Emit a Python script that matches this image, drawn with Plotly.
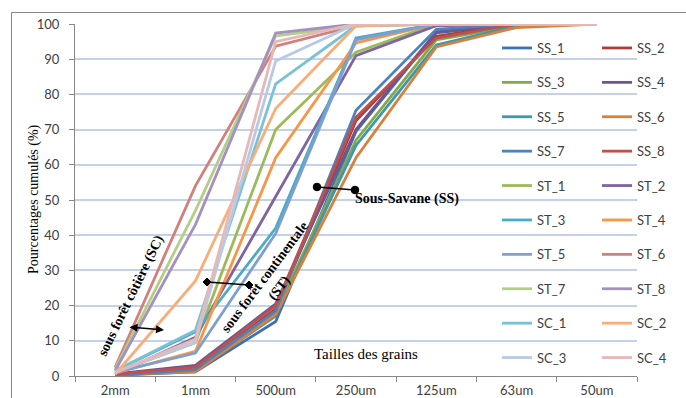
import plotly.graph_objects as go

# ---------------- data ----------------
categories = ["2mm", "1mm", "500um", "250um", "125um", "63um", "50um"]

SS_1 = [0.2, 1.2, 15.5, 69.5, 97.5, 100, 100]
SS_2 = [0.3, 2.0, 19.0, 72.5, 96.5, 100, 100]
SS_3 = [0.5, 2.2, 18.0, 67.0, 95.5, 99.5, 100]
SS_4 = [0.6, 3.0, 20.5, 70.0, 97.8, 100, 100]
SS_5 = [0.3, 1.5, 17.0, 65.5, 94.0, 99.5, 100]
SS_6 = [0.4, 1.2, 17.5, 62.0, 93.5, 99.0, 100]
SS_7 = [0.2, 1.8, 18.5, 75.5, 98.5, 100, 100]
SS_8 = [0.5, 2.5, 20.0, 73.5, 96.0, 100, 100]
ST_1 = [1.0, 9.5, 70.0, 92.0, 100, 100, 100]
ST_2 = [0.5, 11.0, 51.0, 91.0, 99.5, 100, 100]
ST_3 = [1.5, 12.5, 42.0, 96.0, 100, 100, 100]
ST_4 = [0.8, 7.0, 62.0, 94.6, 100, 100, 100]
ST_5 = [1.0, 6.5, 40.5, 95.5, 100, 100, 100]
ST_6 = [2.5, 54.0, 93.7, 99.5, 100, 100, 100]
ST_7 = [2.0, 47.0, 96.6, 99.5, 100, 100, 100]
ST_8 = [1.5, 43.0, 97.4, 100, 100, 100, 100]
SC_1 = [1.5, 13.0, 83.0, 99.5, 100, 100, 100]
SC_2 = [0.5, 27.0, 76.0, 99.5, 100, 100, 100]
SC_3 = [1.0, 9.5, 89.5, 100, 100, 100, 100]
SC_4 = [1.0, 10.5, 95.0, 100, 100, 100, 100]

series_names = ["SS_1", "SS_2", "SS_3", "SS_4", "SS_5", "SS_6", "SS_7", "SS_8",
                "ST_1", "ST_2", "ST_3", "ST_4", "ST_5", "ST_6", "ST_7", "ST_8",
                "SC_1", "SC_2", "SC_3", "SC_4"]
series_values = [SS_1, SS_2, SS_3, SS_4, SS_5, SS_6, SS_7, SS_8,
                 ST_1, ST_2, ST_3, ST_4, ST_5, ST_6, ST_7, ST_8,
                 SC_1, SC_2, SC_3, SC_4]
series_colors = ["#4071ac", "#aa3e3b", "#86a84b", "#6c5590", "#3d98ae", "#d9803c",
                 "#4f81bd", "#c0504d", "#9bbb59", "#8064a2", "#4bacc6", "#f79646",
                 "#7d9fd3", "#d27f7d", "#b3ce85", "#a491c0", "#79c2d6", "#f9ad79",
                 "#b7c9e5", "#e5b9b8"]

# ---------------- layout helpers (pixel -> paper) ----------------
W, H = 686, 398
L, R, T, B = 75, 637, 24, 376


def px(x):
    return (x - L) / (R - L)


def py(y):
    return (B - y) / (B - T)


fig = go.Figure()
for i, (name, vals, col) in enumerate(zip(series_names, series_values, series_colors)):
    fig.add_trace(go.Scatter(
        x=categories, y=vals, name=name, mode="lines",
        line=dict(color=col, width=2.8),
        legend="legend" if i % 2 == 0 else "legend2",
        legendgroup=name,
    ))

tick_font = dict(family="Lato", size=13, color="#404040")
serif = "Liberation Serif"

annotations = [
    dict(text="Pourcentages cumulés (%)", x=px(34), y=py(199), textangle=-90,
         xanchor="center", yanchor="middle",
         showarrow=False, font=dict(family=serif, size=14, color="#000")),
    dict(text="<b>sous forêt côtière (SC)</b>", x=px(131), y=py(296), textangle=-64,
         xanchor="center", yanchor="middle",
         showarrow=False, font=dict(family=serif, size=14, color="#000")),
    dict(text="<b>sous forêt continentale<br>(ST)</b>", x=px(272), y=py(283), textangle=-53,
         xanchor="center", yanchor="middle",
         showarrow=False, font=dict(family=serif, size=14, color="#000")),
    dict(text="<b>Sous-Savane (SS)</b>", x=px(353), y=py(199), xanchor="left", yanchor="middle",
         showarrow=False, font=dict(family=serif, size=14, color="#000")),
    dict(text="Tailles des grains", x=px(312), y=py(354), xanchor="left", yanchor="middle",
         showarrow=False, font=dict(family=serif, size=15, color="#000")),
    dict(text="", x=px(164), y=py(330), ax=-36, ay=-3, showarrow=True,
         arrowside="end+start", arrowhead=2, startarrowhead=2,
         arrowwidth=1.6, arrowcolor="#000"),
]
for a in annotations:
    a.setdefault("xref", "paper")
    a.setdefault("yref", "paper")

shapes = [
    # white box behind the legend (hides gridlines)
    dict(type="rect", xref="paper", yref="paper", x0=px(486), x1=px(637),
         y0=py(370), y1=py(30), fillcolor="white", line=dict(width=0), layer="between"),
    # chart-area border
    dict(type="rect", xref="paper", yref="paper", x0=px(11.5), x1=px(700),
         y0=py(430), y1=py(12.5), line=dict(color="#878787", width=1),
         fillcolor="rgba(0,0,0,0)", layer="above"),
    # dumbbell 1
    dict(type="line", xref="paper", yref="paper", x0=px(207), y0=py(282),
         x1=px(249), y1=py(285), line=dict(color="#000", width=1.6)),
    # dumbbell 2
    dict(type="line", xref="paper", yref="paper", x0=px(317), y0=py(187),
         x1=px(355), y1=py(190), line=dict(color="#000", width=1.6)),
]


def diamond(cx, cy, r):
    return (f"M{px(cx - r)},{py(cy)} L{px(cx)},{py(cy - r)} "
            f"L{px(cx + r)},{py(cy)} L{px(cx)},{py(cy + r)} Z")


for (cx, cy) in [(207, 282), (249, 285)]:
    shapes.append(dict(type="path", xref="paper", yref="paper", path=diamond(cx, cy, 4),
                       fillcolor="#000", line=dict(color="#000", width=1)))
for (cx, cy) in [(317, 187), (355, 190)]:
    r = 3.8
    shapes.append(dict(type="circle", xref="paper", yref="paper",
                       x0=px(cx - r), x1=px(cx + r), y0=py(cy + r), y1=py(cy - r),
                       fillcolor="#000", line=dict(color="#000", width=1)))

legend_common = dict(xanchor="left", yanchor="top", bgcolor="rgba(0,0,0,0)",
                     font=dict(family="Lato", size=13, color="#404040"),
                     tracegroupgap=14.5, itemwidth=30, orientation="v", maxheight=500)

fig.update_layout(
    width=W, height=H, autosize=False,
    margin=dict(l=L, r=W - R, t=T, b=H - B, pad=0),
    paper_bgcolor="white", plot_bgcolor="white",
    showlegend=True,
    legend=dict(x=px(497), y=py(33), **legend_common),
    legend2=dict(x=px(597), y=py(33), **legend_common),
    annotations=annotations,
    shapes=shapes,
    xaxis=dict(type="category", categoryorder="array", categoryarray=categories,
               range=[-0.5, 6.5], tickson="boundaries", ticks="outside", ticklen=5,
               tickcolor="#868686", showline=True, linecolor="#868686", linewidth=1,
               showgrid=False, tickfont=tick_font, ticklabelstandoff=2, fixedrange=True,
               automargin=False),
    yaxis=dict(range=[0, 100], dtick=10, ticks="outside", ticklen=5, tickcolor="#868686",
               showline=True, linecolor="#868686", linewidth=1, showgrid=True,
               gridcolor="#c3d1ea", gridwidth=1.5, zeroline=False, tickfont=tick_font,
               ticklabelstandoff=7, fixedrange=True, automargin=False),
)

fig.write_html("out.html")
